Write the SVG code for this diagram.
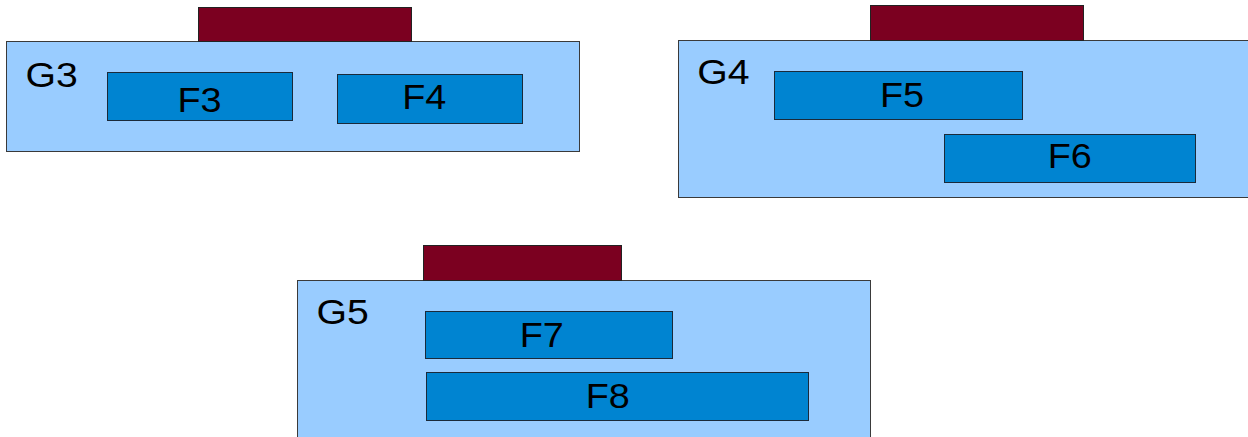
<svg xmlns="http://www.w3.org/2000/svg" width="1248" height="437" viewBox="0 0 1248 437">
<style>
.grp{fill:#99ccff;stroke:#3a3a3a;stroke-width:1}
.tab{fill:#7b0020;stroke:#222;stroke-width:1}
.f{fill:#0084d1;stroke:#1a2a3a;stroke-width:1}
text{font-family:"Liberation Sans",Arial,sans-serif;font-size:35px;fill:#000}
.c{text-anchor:middle}
</style>
<rect width="1248" height="437" fill="#fff"/>
<g id="G3">
<rect class="grp" x="6.5" y="41.5" width="573" height="110"/>
<rect class="tab" x="198.5" y="7.5" width="213" height="34"/>
<text transform="translate(25.5,86.5) scale(1.12,1)">G3</text>
</g>
<g id="F3"><rect class="f" x="107.5" y="72.5" width="185" height="48"/><text class="c" transform="translate(199.5,111.5) scale(1.08,1)">F3</text></g>
<g id="F4"><rect class="f" x="337.5" y="74.5" width="185" height="49"/><text class="c" transform="translate(424.2,109.2) scale(1.08,1)">F4</text></g>
<g id="G4">
<rect class="grp" x="678.5" y="40.5" width="575" height="157"/>
<rect class="tab" x="870.5" y="5.5" width="213" height="35"/>
<text transform="translate(697.2,84.2) scale(1.12,1)">G4</text>
</g>
<g id="F5"><rect class="f" x="774.5" y="71.5" width="248" height="48"/><text class="c" transform="translate(902,106.5) scale(1.08,1)">F5</text></g>
<g id="F6"><rect class="f" x="944.5" y="134.5" width="251" height="48"/><text class="c" transform="translate(1069.8,167.8) scale(1.08,1)">F6</text></g>
<g id="G5">
<rect class="grp" x="297.5" y="280.5" width="573" height="170"/>
<rect class="tab" x="423.5" y="245.5" width="198" height="35"/>
<text transform="translate(316.5,323.5) scale(1.12,1)">G5</text>
</g>
<g id="F7"><rect class="f" x="425.5" y="311.5" width="247" height="47"/><text class="c" transform="translate(541.8,346.8) scale(1.08,1)">F7</text></g>
<g id="F8"><rect class="f" x="426.5" y="372.5" width="382" height="48"/><text class="c" transform="translate(607.8,407.8) scale(1.08,1)">F8</text></g>
<g id="connectors"/>
</svg>
